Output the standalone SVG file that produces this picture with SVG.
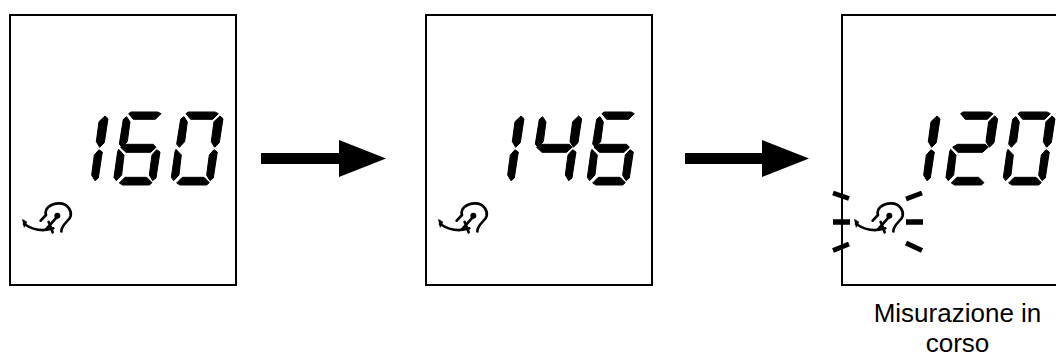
<svg xmlns="http://www.w3.org/2000/svg" xmlns:xlink="http://www.w3.org/1999/xlink" width="1056" height="354" viewBox="0 0 1056 354">
<style>
.box{fill:#fff;stroke:#000;stroke-width:2}
.seg{fill:#000;stroke:#000;stroke-width:3;stroke-linejoin:round}
.ic{fill:none;stroke:#000;stroke-width:8;stroke-linecap:round;stroke-linejoin:round}
.dash{fill:none;stroke:#000}
.lbl{font-family:"Liberation Sans",Arial,sans-serif;font-size:26px;fill:#000;text-anchor:middle}
</style>
<defs>
<polygon id="a" class="seg" points="558,71 565,66 645,66 655,71 638,88 572,88"/>
<polygon id="b" class="seg" points="660,78 669,86 658,158 644,172 634,155 642,95"/>
<polygon id="c" class="seg" points="642,179 652,186 640,264 630,272 620,255 628,195"/>
<polygon id="d" class="seg" points="530,279 547,262 612,262 628,278 620,285 540,285"/>
<polygon id="e" class="seg" points="528,178 544,195 537,255 521,272 514,262 525,185"/>
<polygon id="f" class="seg" points="552,80 562,96 554,155 538,172 530,162 542,88"/>
<polygon id="g" class="seg" points="534,172 548,163 632,163 640,172 624,187 550,187"/>
<g id="icon">
<path class="ic" d="M72,72 Q115,100 160,85"/>
<path d="M66,56 L82,66 L72,84 Z"/>
<path class="ic" d="M122,62 L138,45 C132,28 150,10 178,10 C205,10 215,35 212,48 C208,66 186,68 184,94"/>
<path class="ic" d="M138,88 L172,50 M146,66 L158,97"/>
<circle cx="172" cy="47" r="9"/>
</g>
<g id="d0"><use href="#a"/><use href="#b"/><use href="#c"/><use href="#d"/><use href="#e"/><use href="#f"/></g>
<g id="d1"><use href="#b"/><use href="#c"/></g>
<g id="d2"><use href="#a"/><use href="#b"/><use href="#g"/><use href="#e"/><use href="#d"/></g>
<g id="d4"><use href="#f"/><use href="#g"/><use href="#b"/><use href="#c"/></g>
<g id="d6"><use href="#a"/><use href="#f"/><use href="#g"/><use href="#e"/><use href="#d"/><use href="#c"/></g>
</defs>
<g id="display1">
<rect class="box" x="10" y="15" width="226" height="270"/>
<g transform="translate(0,90) scale(.3333)"><use href="#d1" x="-345"/><use href="#d6" x="-172"/><use href="#d0"/></g>
<use href="#icon" transform="translate(0,200) scale(.3333)"/>
</g>
<g id="display2">
<rect class="box" x="426" y="15" width="226" height="270"/>
<g transform="translate(416,90) scale(.3333)"><use href="#d1" x="-345"/><use href="#d4" x="-172"/><use href="#d6"/></g>
<use href="#icon" transform="translate(416,200) scale(.3333)"/>
</g>
<g id="display3">
<rect class="box" x="842" y="15" width="226" height="270"/>
<g transform="translate(832,90) scale(.3333)"><use href="#d1" x="-345"/><use href="#d2" x="-172"/><use href="#d0"/></g>
<use href="#icon" transform="translate(832,200) scale(.3333)"/>
<path class="dash" stroke-width="5.500" d="M833,222 H850 M906,222 H923"/>
<path class="dash" stroke-width="5" d="M833,250.500 L849,244 M906,243 L922,250.500"/>
<path class="dash" stroke-width="5" d="M833,193 L849,198.500 M906,199 L922,193"/>
<text class="lbl" x="957.500" y="322">Misurazione in</text>
<text class="lbl" x="957.500" y="352">corso</text>
</g>
<g id="connectors">
<polygon points="261,153 339,153 339,140 386,158.500 339,177 339,164 261,164"/>
<polygon points="685,153 762,153 762,140 809,158.500 762,177 762,164 685,164"/>
</g>
</svg>
